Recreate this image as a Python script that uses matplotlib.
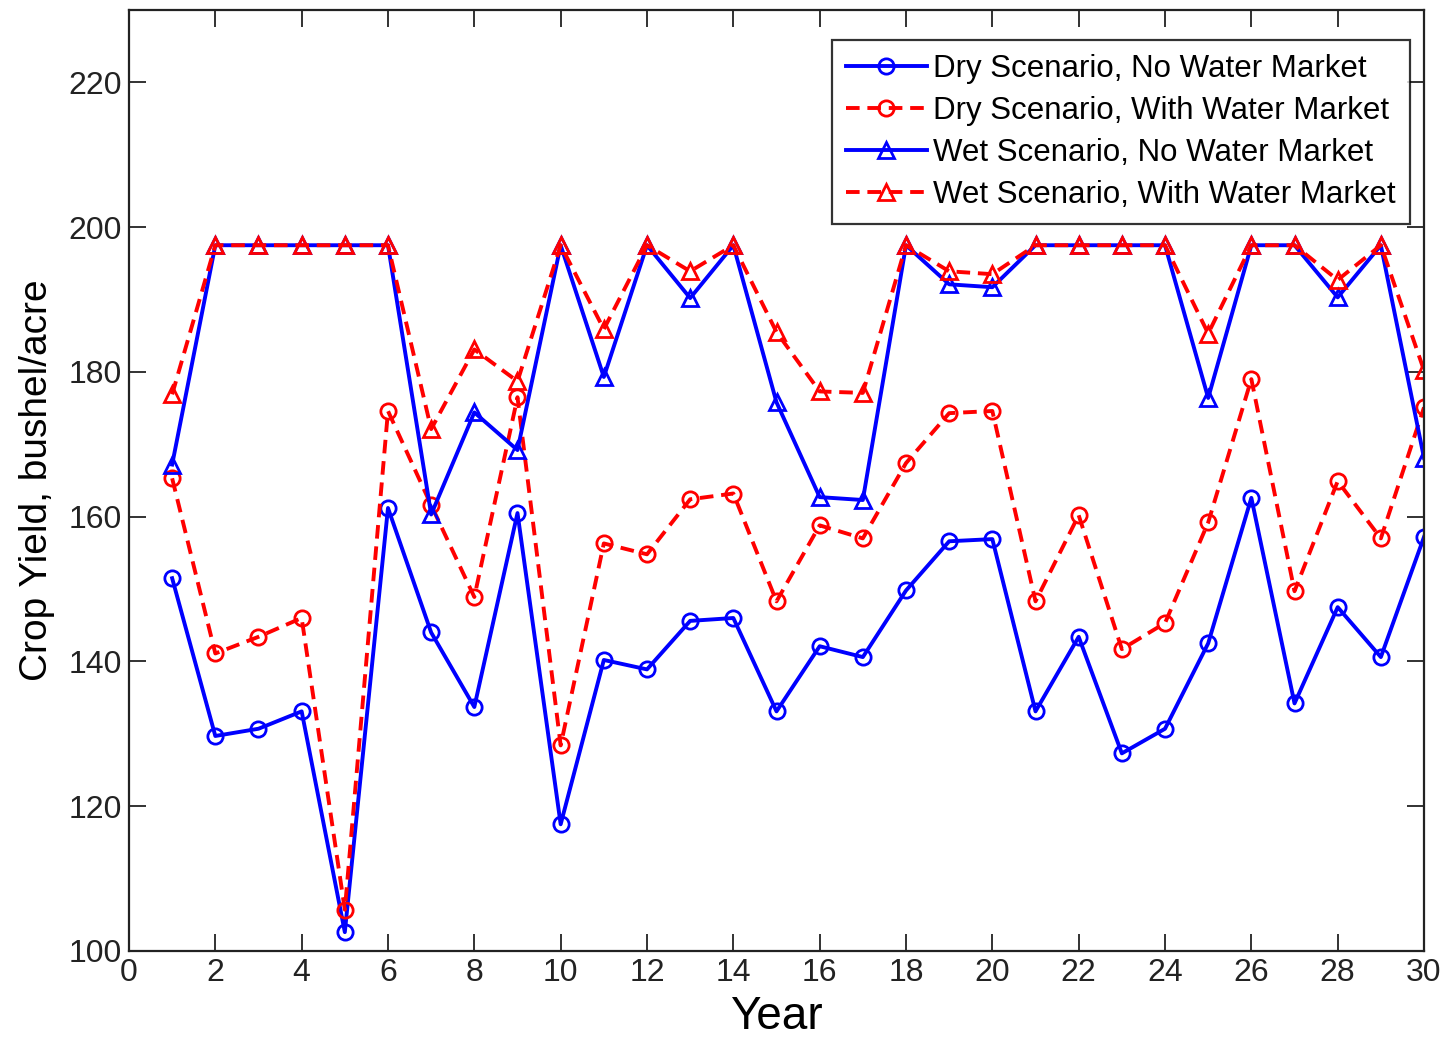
import matplotlib
matplotlib.use("Agg")
import matplotlib.pyplot as plt
import numpy as np

years = list(range(1, 31))
dry_no_wm = [151.5, 129.7, 130.7, 133.1, 102.6, 161.2, 144.0, 133.7, 160.5, 117.5,
             140.2, 138.9, 145.6, 146.0, 133.1, 142.1, 140.6, 149.8, 156.6, 156.9,
             133.1, 143.4, 127.3, 130.7, 142.5, 162.6, 134.2, 147.5, 140.6, 157.2]
dry_wm = [165.3, 141.1, 143.4, 146.0, 105.7, 174.6, 161.6, 148.9, 176.5, 128.4,
          156.3, 154.8, 162.4, 163.2, 148.3, 158.8, 157.0, 167.4, 174.3, 174.6,
          148.3, 160.2, 141.7, 145.3, 159.2, 179.0, 149.7, 164.9, 157.0, 175.1]
wet_no_wm = [167.2, 197.5, 197.5, 197.5, 197.5, 197.5, 160.3, 174.4, 169.2, 197.5,
             179.3, 197.5, 190.2, 197.5, 175.8, 162.7, 162.3, 197.5, 192.1, 191.7,
             197.5, 197.5, 197.5, 197.5, 176.4, 197.5, 197.5, 190.3, 197.5, 168.1]
wet_wm = [176.9, 197.5, 197.5, 197.5, 197.5, 197.5, 172.1, 183.1, 178.7, 197.5,
          185.9, 197.5, 193.9, 197.5, 185.5, 177.3, 177.1, 197.5, 193.9, 193.5,
          197.5, 197.5, 197.5, 197.5, 185.3, 197.5, 197.5, 192.7, 197.5, 180.2]
labels = ["Dry Scenario, No Water Market", "Dry Scenario, With Water Market",
          "Wet Scenario, No Water Market", "Wet Scenario, With Water Market"]
xticks = list(range(0, 31, 2))
yticks = list(range(100, 221, 20))

plt.rcParams['font.family'] = ['Liberation Sans', 'DejaVu Sans']
fig = plt.figure(figsize=(14.46, 10.41), dpi=100)
ax = fig.add_axes([0.0892, 0.0865, 0.8956, 0.9039])

dash = (0, (3.5, 2.0))
common = dict(lw=2.8, ms=11, mew=2.0, mfc='none')
ax.plot(years, dry_no_wm, color='#0000ff', ls='-', marker='o', label=labels[0], **common)
ax.plot(years, dry_wm, color='#ff0000', ls=dash, marker='o', label=labels[1], **common)
ax.plot(years, wet_no_wm, color='#0000ff', ls='-', marker='^', label=labels[2], **common)
ax.plot(years, wet_wm, color='#ff0000', ls=dash, marker='^', label=labels[3], **common)

ax.set_xlim(0, 30)
ax.set_ylim(100, 230)
ax.set_xticks(xticks)
ax.set_yticks(yticks)
ax.tick_params(direction='in', length=12, width=1.3, top=True, right=True,
               labelsize=23, colors='#222222', pad=5)
for s in ax.spines.values():
    s.set_linewidth(1.6)
    s.set_color('#222222')
ax.set_xlabel("Year", fontsize=33, labelpad=5)
ax.set_ylabel("Crop Yield, bushel/acre", fontsize=28, labelpad=10)

leg = ax.legend(loc='upper right', bbox_to_anchor=(0.989, 0.968), fontsize=22.5,
                frameon=True, fancybox=False, edgecolor='black', handlelength=2.6,
                handletextpad=0.2, borderpad=0.45, labelspacing=0.38, borderaxespad=0)
leg.get_frame().set_linewidth(1.6)

fig.savefig("out.png", dpi=100)
